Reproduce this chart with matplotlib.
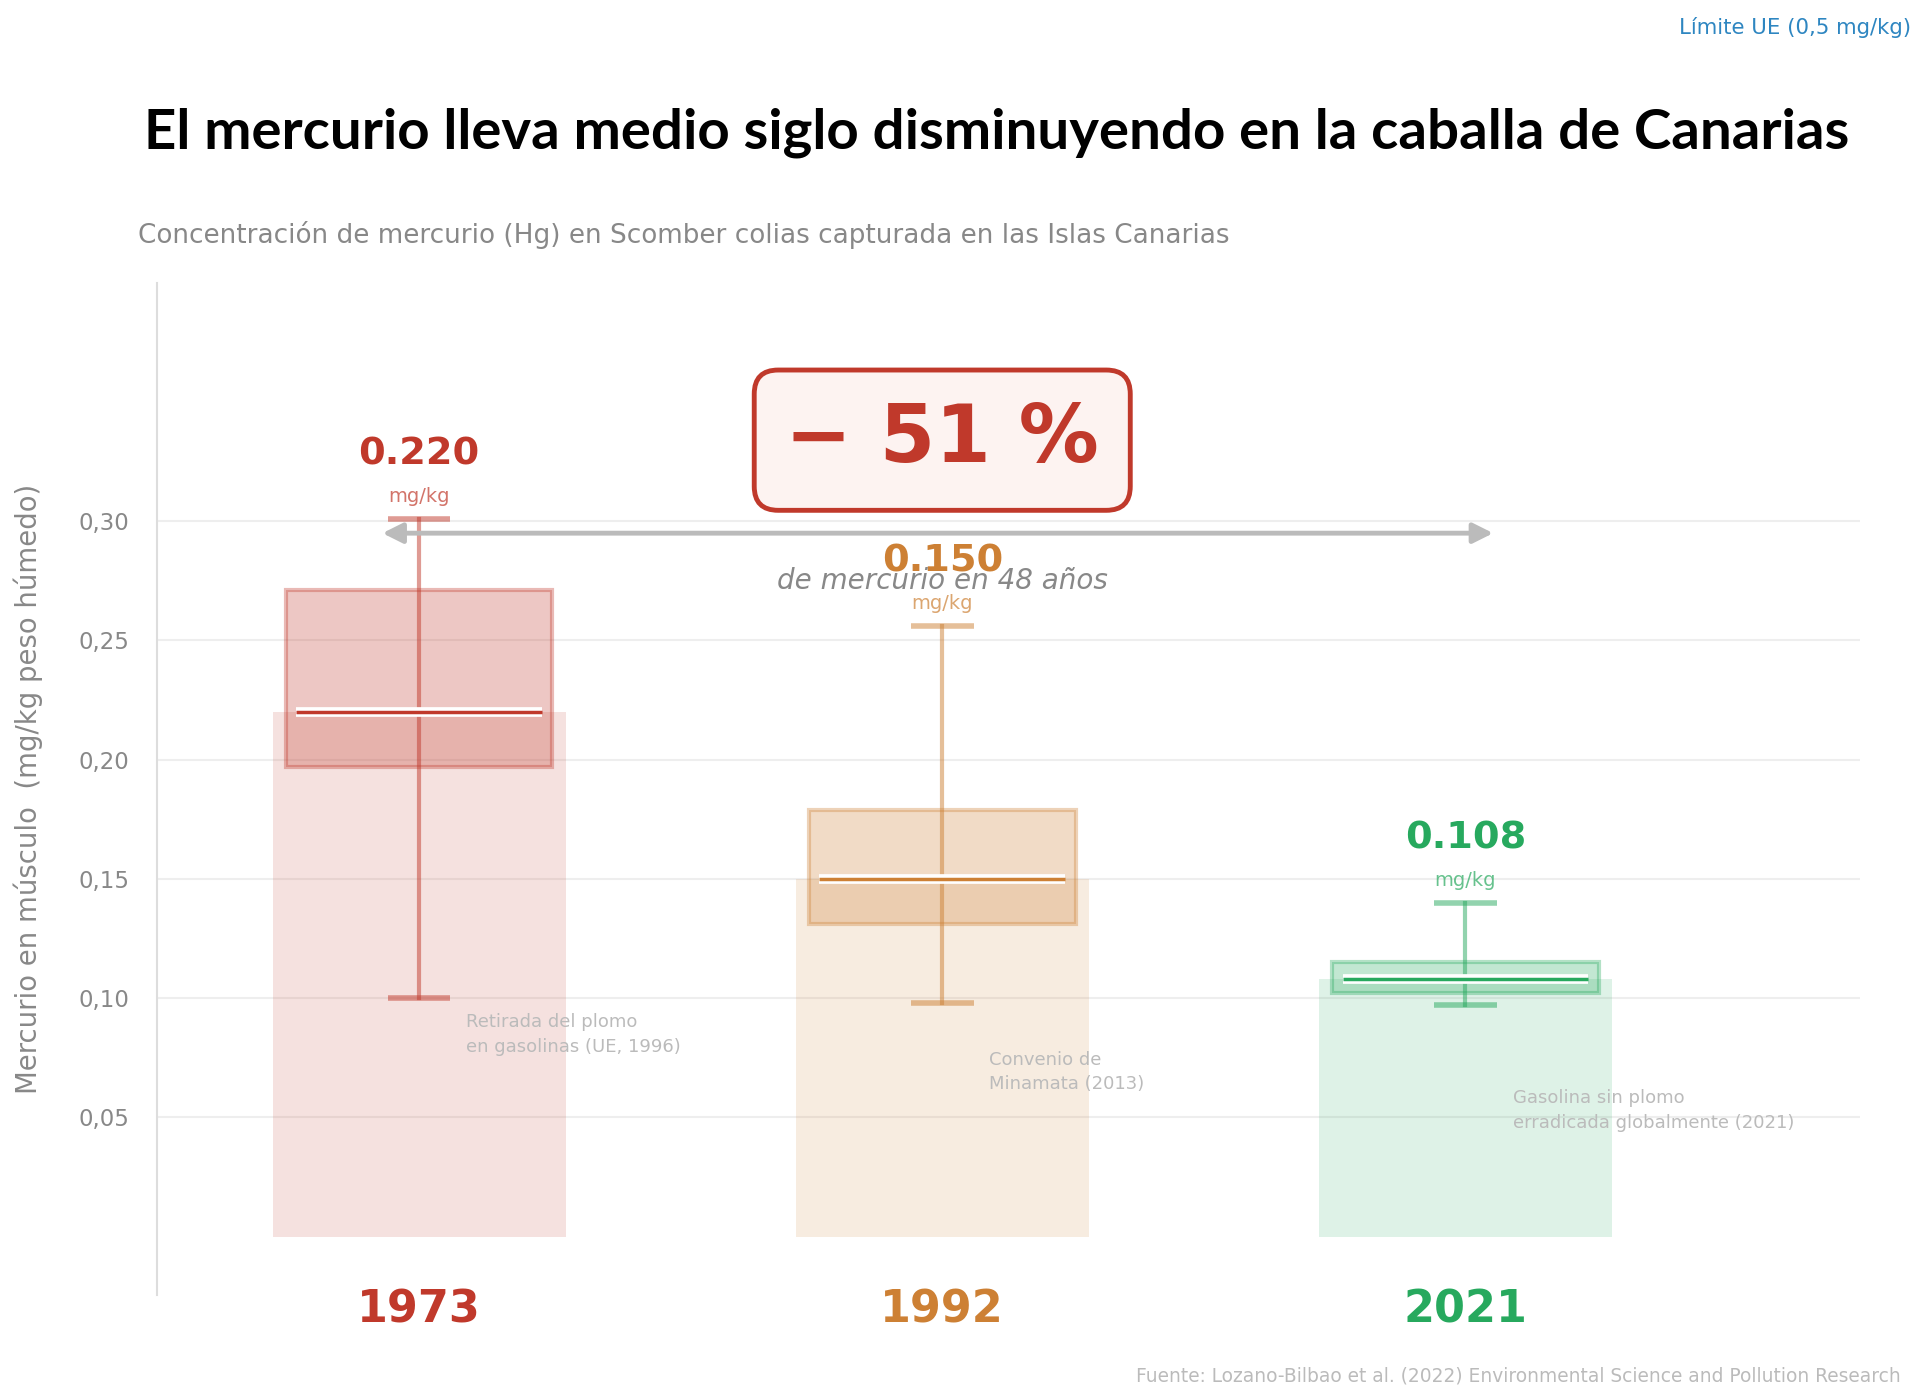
import numpy as np
import matplotlib
matplotlib.use("Agg")
import matplotlib.pyplot as plt

# data
years = ["1973", "1992", "2021"]
medians = [0.220, 0.150, 0.108]
q1 = [0.197, 0.131, 0.102]
q3 = [0.271, 0.179, 0.115]
whisk_lo = [0.100, 0.098, 0.097]
whisk_hi = [0.301, 0.256, 0.140]
colors = ["#c0392b", "#cd8034", "#27a95e"]
notes = ["Retirada del plomo\nen gasolinas (UE, 1996)",
         "Convenio de\nMinamata (2013)",
         "Gasolina sin plomo\nerradicada globalmente (2021)"]
note_y = [0.0847, 0.0689, 0.0529]
yticks = [0.05, 0.10, 0.15, 0.20, 0.25, 0.30]

x = np.arange(len(years))
pct = (medians[-1] - medians[0]) / medians[0] * 100
span = int(years[-1]) - int(years[0])

fig = plt.figure(figsize=(19.2, 14), dpi=100)
ax = fig.add_axes([0.082, 0.075, 0.887, 0.723])

ax.set_xlim(-0.5, 2.755)
ax.set_ylim(-0.0245, 0.40)

for s in ["top", "right", "bottom"]:
    ax.spines[s].set_visible(False)
ax.spines["left"].set_color("#dddddd")
ax.spines["left"].set_linewidth(1.5)

ax.set_yticks(yticks)
ax.set_yticklabels([f"{v:.2f}".replace(".", ",") for v in yticks])
ax.yaxis.grid(True, color="#eeeeee", lw=1.5)
ax.set_axisbelow(True)
ax.tick_params(axis="y", length=0, pad=20, labelsize=16.5, labelcolor="#888888")

ax.set_xticks(x)
ax.set_xticklabels(years, fontsize=32, fontweight="bold")
for lab, c in zip(ax.get_xticklabels(), colors):
    lab.set_color(c)
ax.tick_params(axis="x", length=0, pad=-5)

ax.set_ylabel("Mercurio en músculo  (mg/kg peso húmedo)", fontsize=19.8, color="#888888")
ax.yaxis.set_label_coords(-0.067, 0.5)

# bars at median
ax.bar(x, medians, width=0.56, color=colors, alpha=0.15, zorder=1)

for i in range(len(years)):
    c = colors[i]
    # whisker
    ax.plot([x[i], x[i]], [whisk_lo[i], whisk_hi[i]], color=c, alpha=0.5, lw=3, zorder=2)
    ax.plot([x[i] - 0.06, x[i] + 0.06], [whisk_lo[i]] * 2, color=c, alpha=0.5, lw=4,
            solid_capstyle="butt", zorder=2)
    ax.plot([x[i] - 0.06, x[i] + 0.06], [whisk_hi[i]] * 2, color=c, alpha=0.5, lw=4,
            solid_capstyle="butt", zorder=2)
    # box
    ax.bar(x[i], q3[i] - q1[i], bottom=q1[i], width=0.51, color=c, alpha=0.28,
           edgecolor=c, lw=0, zorder=3)
    ax.bar(x[i], q3[i] - q1[i], bottom=q1[i], width=0.51, fill=False,
           edgecolor=matplotlib.colors.to_rgba(c, 0.35), lw=3, zorder=3)
    # median line
    ax.plot([x[i] - 0.235, x[i] + 0.235], [medians[i]] * 2, color="white", lw=7,
            solid_capstyle="butt", zorder=4)
    ax.plot([x[i] - 0.235, x[i] + 0.235], [medians[i]] * 2, color=c, lw=2.5,
            solid_capstyle="butt", zorder=5)
    # labels
    ax.text(x[i], whisk_hi[i] + 0.027, f"{medians[i]:.3f}", ha="center", va="center",
            fontsize=27.5, fontweight="bold", color=c, zorder=6)
    ax.text(x[i], whisk_hi[i] + 0.0095, "mg/kg", ha="center", va="center",
            fontsize=14, color=c, alpha=0.7, zorder=6)
    ax.text(x[i] + 0.09, note_y[i], notes[i], ha="left", va="center",
            fontsize=13, color="#bbbbbb", linespacing=1.45, zorder=6)

# change arrow and badge
ax.annotate("", xy=(2.053, 0.295), xytext=(-0.07, 0.295),
            arrowprops=dict(arrowstyle="<|-|>,head_length=0.6,head_width=0.3",
                            color="#bbbbbb", lw=3.5, mutation_scale=20,
                            shrinkA=0, shrinkB=0), zorder=5)
ax.text(1, 0.334, f"\u2212 {abs(pct):.0f} %", ha="center", va="center", fontsize=57.5,
        fontweight="bold", color="#c0392b", zorder=7,
        bbox=dict(boxstyle="round,pad=0.39,rounding_size=0.3", fc="#fdf3f1",
                  ec="#c0392b", lw=3.5))
ax.text(1, 0.275, f"de mercurio en {span} años", ha="center", va="center",
        fontsize=20, style="italic", color="#888888", zorder=6)

fig.text(0.519, 0.905, "El mercurio lleva medio siglo disminuyendo en la caballa de Canarias",
         ha="center", va="center", fontsize=40.6, fontweight="bold", family="Lato", color="black")
fig.text(0.072, 0.832, "Concentración de mercurio (Hg) en Scomber colias capturada en las Islas Canarias",
         ha="left", va="center", fontsize=18.9, color="#888888")
fig.text(0.9955, 0.98, "Límite UE (0,5 mg/kg)", ha="right", va="center", fontsize=15.3,
         color="#2e86c1")
fig.text(0.99, 0.017, "Fuente: Lozano-Bilbao et al. (2022) Environmental Science and Pollution Research",
         ha="right", va="center", fontsize=13.4, color="#bbbbbb")

fig.savefig("out.png", dpi=100, facecolor="white")
